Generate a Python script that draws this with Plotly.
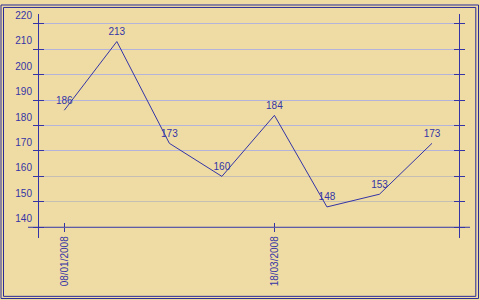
import plotly.graph_objects as go

# ---- data ----
point_index = [0, 1, 2, 3, 4, 5, 6, 7]
values = [186, 213, 173, 160, 184, 148, 153, 173]
x_tick_index = [0, 4]
x_tick_labels = ["08/01/2008", "18/03/2008"]
y_ticks = [140, 150, 160, 170, 180, 190, 200, 210, 220]
grid_upper = [170, 180, 190, 200, 210, 220]
grid_lower = [150, 160]

W, H = 480, 300
BLUE = "#3434A6"
FRAME = "#2B2B98"
FONT = dict(family="Liberation Sans, Arial, sans-serif", size=10, color=BLUE)

def px_x(p):
    return p / W

def px_y(p):
    return 1 - p / H

y_range = [135.85, 223.88]
label_shift = 3.3
text_shift = 1.6
x_range = [-0.4816, 7.514]

fig = go.Figure()
fig.add_trace(go.Scatter(
    x=point_index, y=values, mode="lines",
    line=dict(color=BLUE, width=1),
    showlegend=False, hoverinfo="skip",
))
fig.add_trace(go.Scatter(
    x=point_index, y=values, mode="text", yaxis="y8",
    text=[str(v) for v in values], textposition="top center",
    textfont=FONT, showlegend=False, hoverinfo="skip", cliponaxis=False,
))
# helper traces so every overlay axis is registered
for ya in ["y2", "y3", "y4", "y5", "y6", "y7"]:
    fig.add_trace(go.Scatter(x=[None], y=[None], yaxis=ya, showlegend=False,
                             hoverinfo="skip"))
fig.add_trace(go.Scatter(x=[None], y=[None], xaxis="x2", showlegend=False,
                         hoverinfo="skip"))

common_y = dict(range=y_range, tickvals=y_ticks, showticklabels=False,
                zeroline=False, tickcolor=BLUE, ticklen=5, tickwidth=1)
blank_y = dict(overlaying="y", anchor="x", side="left", ticks="",
               showticklabels=False, zeroline=False, showline=False)

fig.update_layout(
    width=W, height=H,
    margin=dict(l=0, r=0, t=0, b=0),
    paper_bgcolor="#EFDCA4",
    plot_bgcolor="rgba(0,0,0,0)",
    font=FONT,
    xaxis=dict(domain=[px_x(39), px_x(459)], range=x_range,
               anchor="free", position=px_y(226.3),
               tickvals=x_tick_index, ticktext=x_tick_labels,
               ticks="outside", ticklen=4, tickcolor=BLUE, tickangle=-90,
               showgrid=False, zeroline=False, showline=False,
               tickfont=FONT),
    xaxis2=dict(overlaying="x", range=x_range, anchor="free",
                position=px_y(226.3), tickvals=x_tick_index,
                ticks="inside", ticklen=4, tickcolor=BLUE,
                showticklabels=False, showgrid=False, zeroline=False),
    yaxis=dict(domain=[px_y(237), px_y(10)], anchor="x", side="left",
               ticks="outside", showline=True, linecolor=BLUE, linewidth=1,
               showgrid=False, **common_y),
    yaxis2=dict(overlaying="y", anchor="x", side="right", ticks="outside",
                showline=True, linecolor=BLUE, linewidth=1, showgrid=False,
                **common_y),
    yaxis3=dict(overlaying="y", anchor="x", side="left", ticks="inside",
                showgrid=False, **common_y),
    yaxis4=dict(overlaying="y", anchor="x", side="right", ticks="inside",
                showgrid=False, **common_y),
    yaxis5=dict(overlaying="y", anchor="x", side="left", ticks="",
                range=[y_range[0] - label_shift, y_range[1] - label_shift],
                tickvals=y_ticks, showticklabels=True, tickfont=FONT,
                showgrid=False, zeroline=False, ticklabelstandoff=6),
    yaxis6=dict(range=y_range, tickvals=grid_upper, showgrid=True,
                gridcolor="#B4B4DA", gridwidth=1, **blank_y),
    yaxis7=dict(range=y_range, tickvals=grid_lower, showgrid=True,
                gridcolor="#C4BEB4", gridwidth=1, **blank_y),
    yaxis8=dict(range=[y_range[0] - text_shift, y_range[1] - text_shift],
                showgrid=False, **blank_y),
    shapes=[
        dict(type="line", xref="paper", yref="y", x0=px_x(28), x1=px_x(470),
             y0=140, y1=140, line=dict(color=BLUE, width=1)),
        dict(type="rect", xref="paper", yref="paper", x0=px_x(1), x1=px_x(478.5),
             y0=px_y(298.5), y1=px_y(1), line=dict(color=FRAME, width=1)),
        dict(type="rect", xref="paper", yref="paper", x0=px_x(3.5), x1=px_x(475.8),
             y0=px_y(296.3), y1=px_y(3.5), line=dict(color=FRAME, width=1)),
    ],
)
fig.write_html("out.html")
